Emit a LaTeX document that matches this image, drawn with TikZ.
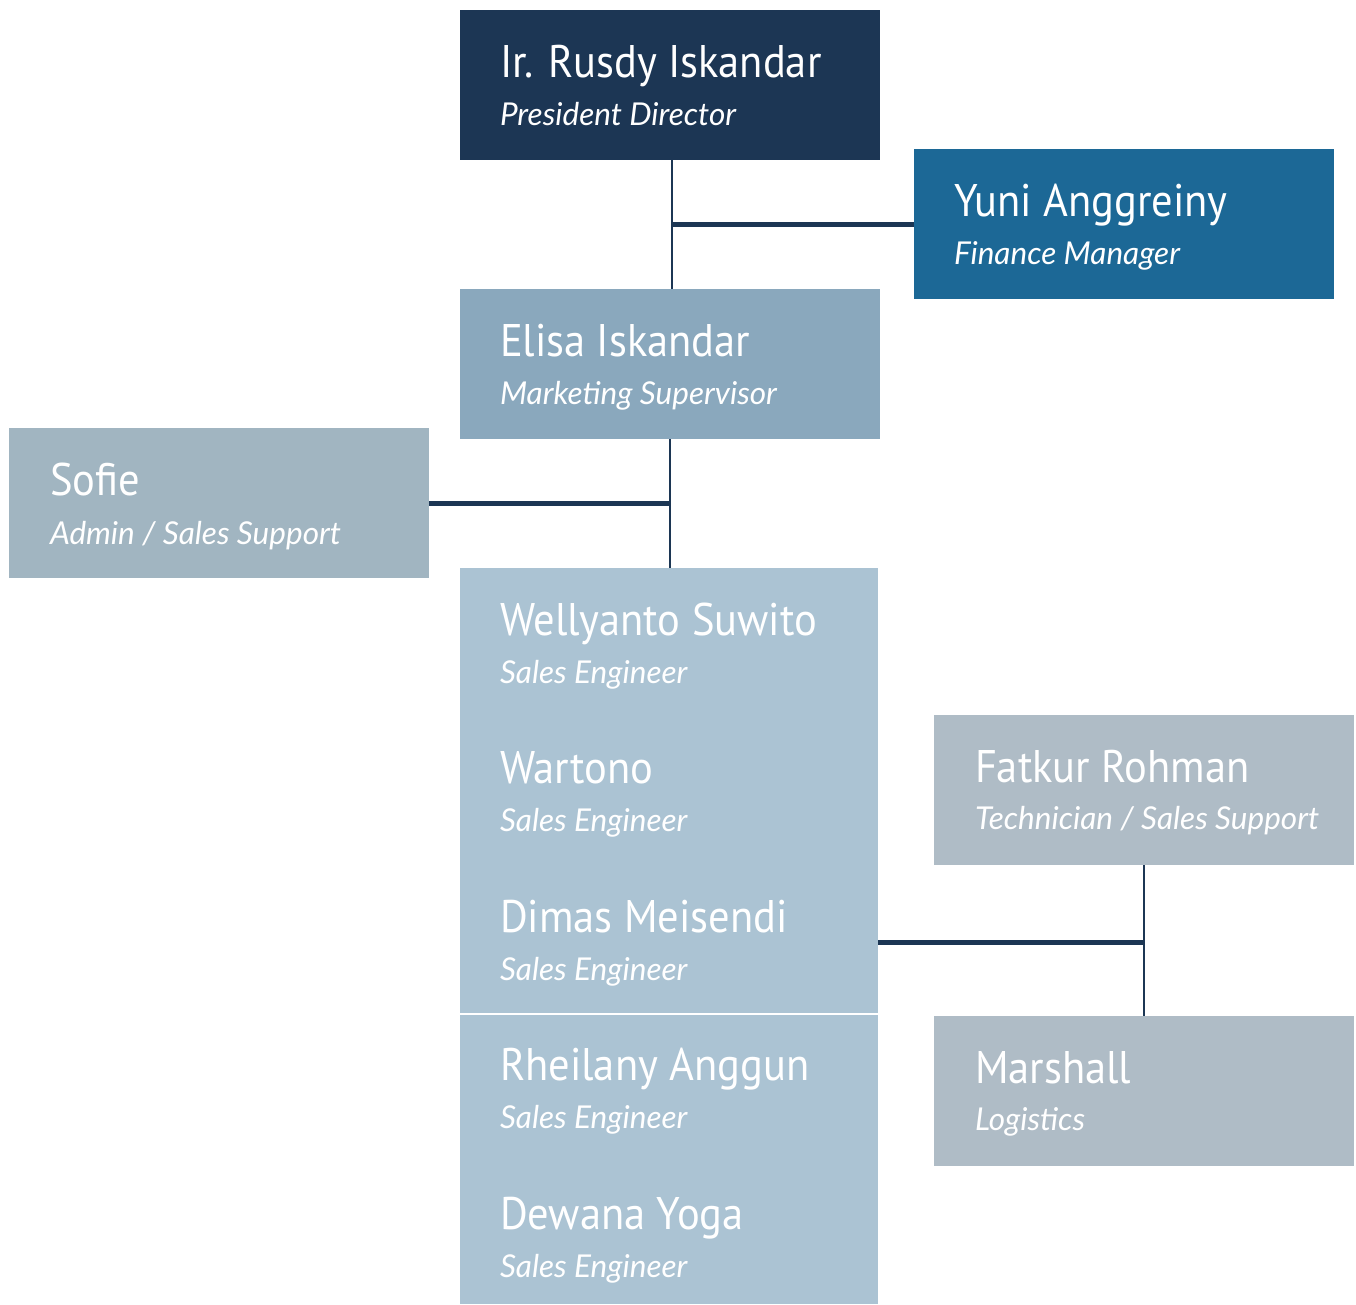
\documentclass[tikz,border=0pt]{standalone}
\usepackage{fontspec}
\setmainfont{PT Sans}[FakeStretch=0.93]
\newfontfamily\rolefont{Lato}
\usepackage{xcolor}
\usepackage{tikz}
\usetikzlibrary{positioning, calc}

\definecolor{navy}{HTML}{1C3654}
\definecolor{finblue}{HTML}{1C6896}
\definecolor{mktblue}{HTML}{8AA8BD}
\definecolor{adminblue}{HTML}{A1B5C1}
\definecolor{salesblue}{HTML}{ABC3D3}
\definecolor{techgrey}{HTML}{AFBCC6}

\newcommand{\namefont}{\fontsize{45.7}{50}\selectfont}
\newcommand{\rolestyle}{\rolefont\itshape\fontsize{31.5}{35}\selectfont}

\begin{document}
\begin{tikzpicture}[x=1pt, y=-1pt, every node/.style={inner sep=0pt, outer sep=0pt},
  card/.style={rectangle, anchor=north west, minimum width=420, minimum height=150},
  pname/.style={anchor=base west, text=white, font=\namefont},
  prole/.style={anchor=base west, text=white, font=\rolestyle},
  link/.style={draw=navy, line width=2.5},
  branch/.style={draw=navy, line width=5}]

\useasboundingbox (0,0) rectangle (1356,1304);

% Boxes
\node[card, fill=navy] (rusdy) at (460,10) {};
\node[card, fill=finblue] (yuni) at (914,149) {};
\node[card, fill=mktblue] (elisa) at (460,289) {};
\node[card, fill=adminblue] (sofie) at (9,428) {};
\node[card, fill=techgrey] (fatkur) at (934,715) {};
\node[card, fill=techgrey] (marshall) at (934,1016) {};

% Sales engineers block
\node[card, fill=salesblue, minimum width=418, minimum height=445] (salesA) at (460,568) {};
\node[card, fill=salesblue, minimum width=418, minimum height=289] (salesB) at (460,1015) {};

% Names and roles
\node[pname] (rusdy_n) at ($(rusdy.north west)+(40,67)$) {Ir. Rusdy Iskandar};
\node[prole] (rusdy_r) at ($(rusdy.north west)+(40,115)$) {President Director};
\node[pname] (yuni_n) at ($(yuni.north west)+(40,67)$) {Yuni Anggreiny};
\node[prole] (yuni_r) at ($(yuni.north west)+(40,115)$) {Finance Manager};
\node[pname] (elisa_n) at ($(elisa.north west)+(40,67)$) {Elisa Iskandar};
\node[prole] (elisa_r) at ($(elisa.north west)+(40,115)$) {Marketing Supervisor};
\node[pname] (sofie_n) at ($(sofie.north west)+(41,67)$) {Sofie};
\node[prole] (sofie_r) at ($(sofie.north west)+(41,116)$) {Admin / Sales Support};
\node[pname] (fatkur_n) at ($(fatkur.north west)+(41,67)$) {Fatkur Rohman};
\node[prole] (fatkur_r) at ($(fatkur.north west)+(41,114)$) {Technician / Sales Support};
\node[pname] (marshall_n) at ($(marshall.north west)+(41,67)$) {Marshall};
\node[prole] (marshall_r) at ($(marshall.north west)+(41,114)$) {Logistics};

\foreach \who [count=\i from 0] in {Wellyanto Suwito, Wartono, Dimas Meisendi, Rheilany Anggun, Dewana Yoga} {
  \node[pname] (se\i_n) at ($(salesA.north west)+(40,67+148.5*\i)$) {\who};
  \node[prole] (se\i_r) at ($(salesA.north west)+(40,115+148.5*\i)$) {Sales Engineer};
}

% Connectors
\draw[link] ($(rusdy.south)+(2,0)$) -- ($(elisa.north)+(2,0)$);
\draw[branch] (yuni.west) -- ($(yuni.west -| rusdy.south)+(2,0)$);
\draw[link] (elisa.south) -- (elisa.south |- salesA.north);
\draw[branch] (sofie.east) -- (sofie.east -| elisa.south);
\draw[link] (fatkur.south) -- (marshall.north);
\coordinate (tech) at ($(fatkur.south)!0.5!(marshall.north)+(0,2)$);
\draw[branch] (tech -| salesA.east) -- (tech);

\end{tikzpicture}
\end{document}
